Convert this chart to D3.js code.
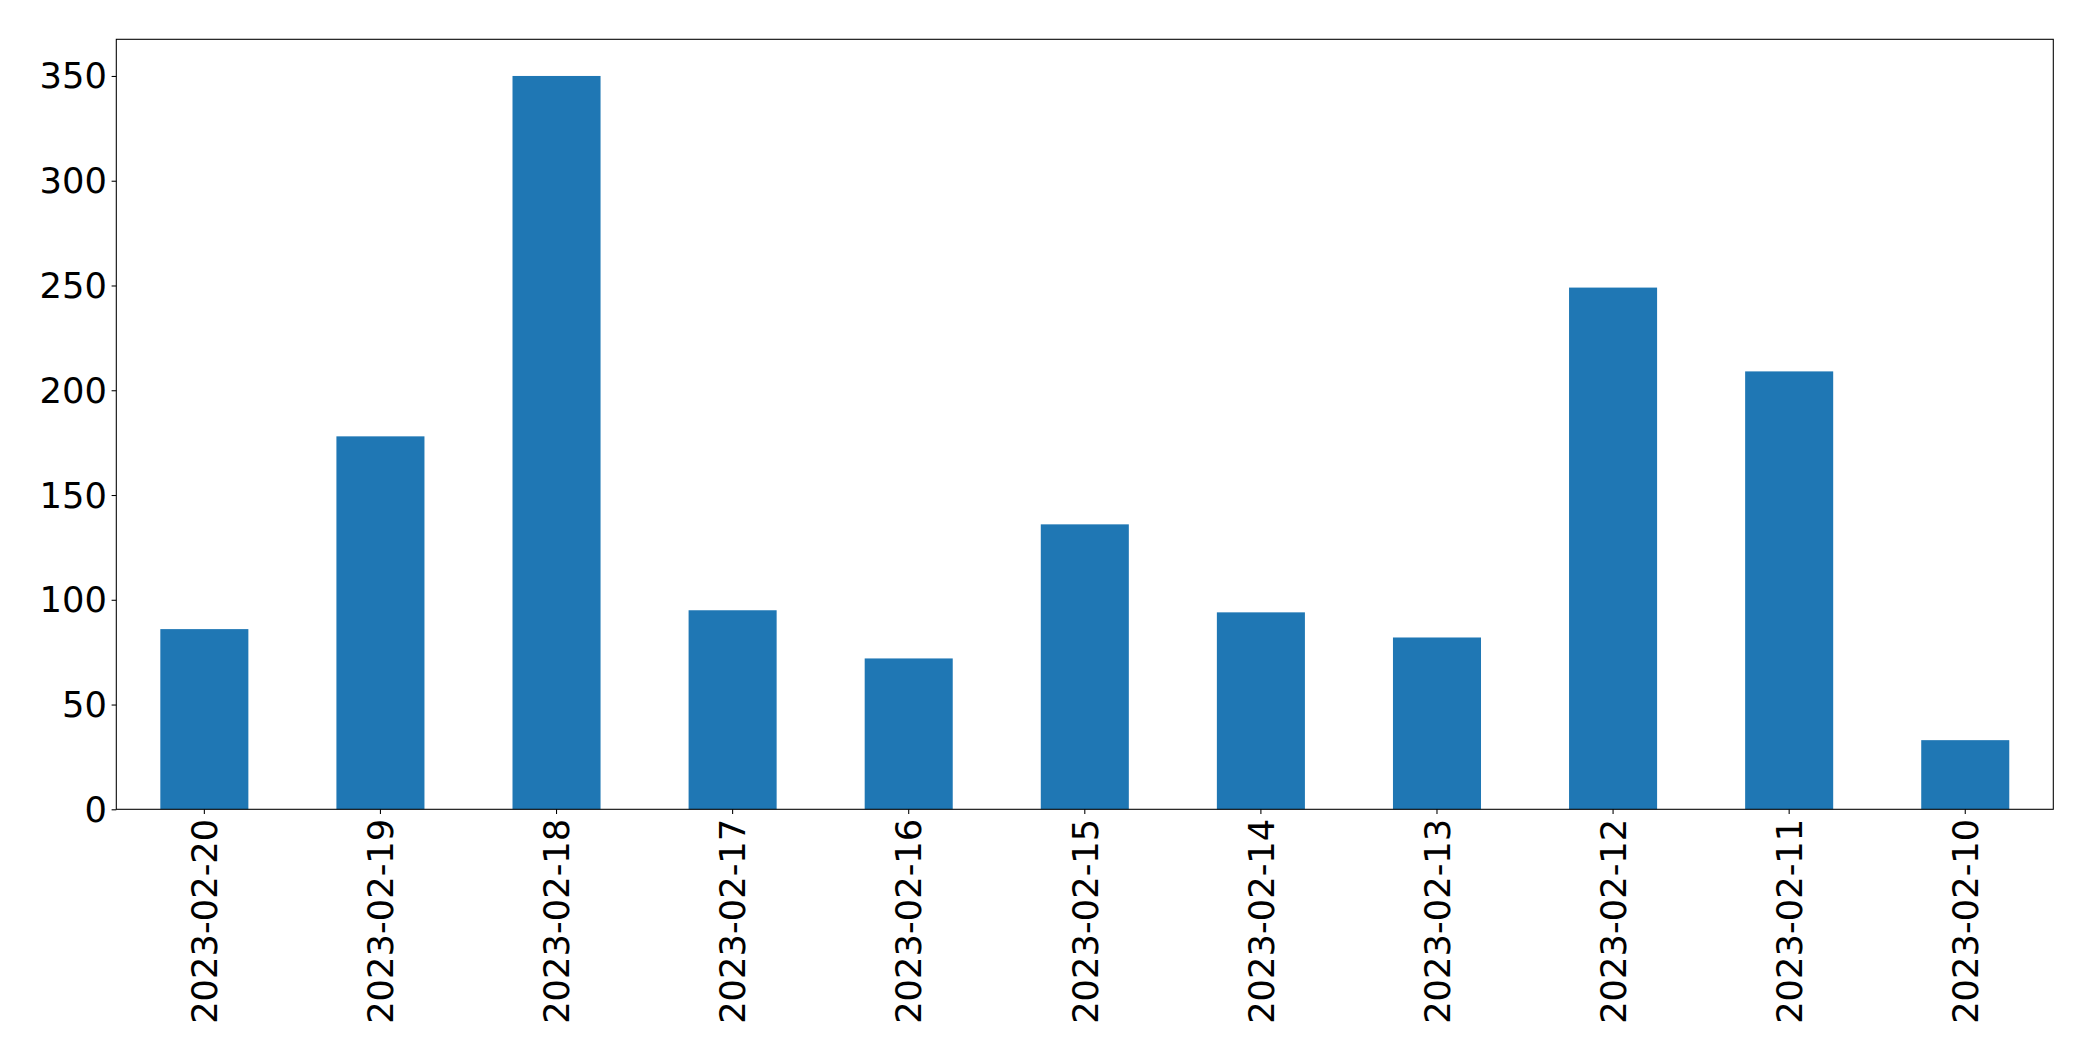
<!DOCTYPE html>
<html>
<head>
<meta charset="utf-8">
<script src="https://cdn.jsdelivr.net/npm/d3@7"></script>
<style>
  body { margin: 0; background: #fff; }
  svg text { font-family: "DejaVu Sans", sans-serif; fill: #000; }
</style>
</head>
<body>
<div id="chart"></div>
<script>
// dates, newest first as in the source
var dates = ["2023-02-20", "2023-02-19", "2023-02-18", "2023-02-17", "2023-02-16",
             "2023-02-15", "2023-02-14", "2023-02-13", "2023-02-12", "2023-02-11", "2023-02-10"];
var counts = [86, 178, 350, 95, 72, 136, 94, 82, 249, 209, 33];
var yTicks = [0, 50, 100, 150, 200, 250, 300, 350];

var width = 2093;
var height = 1061;
var margin = { top: 39.3, right: 2093 - 2053.3, bottom: 1061 - 809.3, left: 116.3 };
var innerW = width - margin.left - margin.right;
var innerH = height - margin.top - margin.bottom;
var fontSize = 35.3;
var tickLen = 4.7;

var svg = d3.select('#chart')
  .append('svg')
  .attr('width', width)
  .attr('height', height);

var g = svg.append('g')
  .attr('transform', 'translate(' + margin.left + ',' + margin.top + ')');

// categorical x like pandas bar plot: width 0.5 of each slot
var x = d3.scaleBand()
  .domain(dates)
  .range([0, innerW])
  .paddingInner(0.5)
  .paddingOuter(0.25);

var ymax = d3.max(counts) * 1.05;
var y = d3.scaleLinear()
  .domain([0, ymax])
  .range([innerH, 0]);

g.selectAll('rect.bar')
  .data(counts)
  .enter()
  .append('rect')
  .attr('class', 'bar')
  .attr('x', function(d, i) { return x(dates[i]); })
  .attr('y', function(d) { return y(d); })
  .attr('width', x.bandwidth())
  .attr('height', function(d) { return innerH - y(d); })
  .attr('fill', '#1f77b4');

// y axis
var yAxis = g.append('g')
  .call(d3.axisLeft(y).tickValues(yTicks).tickSize(tickLen).tickPadding(4.7).tickFormat(d3.format('d')));
yAxis.select('.domain').remove();
yAxis.selectAll('line').attr('stroke', '#000').attr('stroke-width', 1.07);
yAxis.selectAll('text')
  .style('font-size', fontSize + 'px')
  .attr('dy', '0.34em');

// x axis
var xAxis = g.append('g')
  .attr('transform', 'translate(0,' + innerH + ')')
  .call(d3.axisBottom(x).tickSize(tickLen).tickPadding(0));
xAxis.select('.domain').remove();
xAxis.selectAll('line').attr('stroke', '#000').attr('stroke-width', 1.07);
xAxis.selectAll('text')
  .style('font-size', fontSize + 'px')
  .attr('text-anchor', 'end')
  .attr('y', 0)
  .attr('dy', '0.36em')
  .attr('transform', 'translate(0,' + (tickLen + 4.7) + ') rotate(-90)');

// frame
g.append('rect')
  .attr('x', 0)
  .attr('y', 0)
  .attr('width', innerW)
  .attr('height', innerH)
  .attr('fill', 'none')
  .attr('stroke', '#000')
  .attr('stroke-width', 1.07);
</script>
</body>
</html>
